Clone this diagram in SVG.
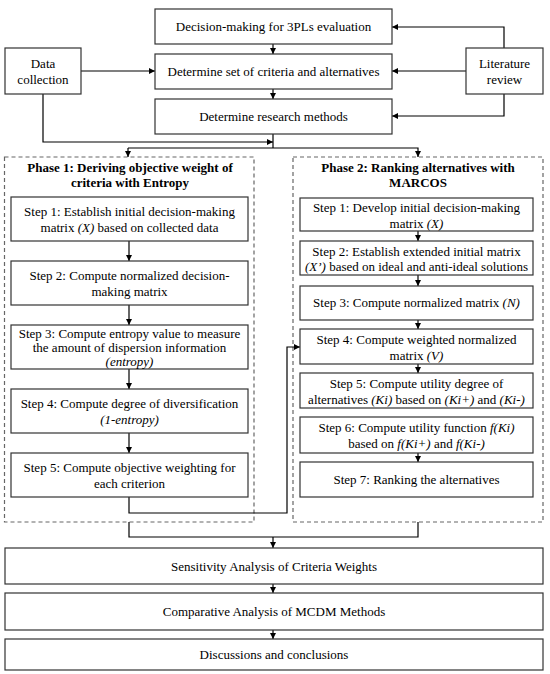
<svg xmlns="http://www.w3.org/2000/svg" width="550" height="674" viewBox="0 0 550 674">
<defs>
<marker id="ah" viewBox="0 0 10 10" refX="10" refY="5" markerWidth="6" markerHeight="6" orient="auto" markerUnits="userSpaceOnUse">
<path d="M0,0 L10,5 L0,10 z" fill="#000"/>
</marker>
</defs>
<style>
.box{fill:#fff;stroke:#333;stroke-width:1.2}
.dash{fill:none;stroke:#666;stroke-width:1.2;stroke-dasharray:4,3}
.c{fill:none;stroke:#000;stroke-width:1.2}
.a{marker-end:url(#ah)}
text{font-family:"Liberation Serif","Times New Roman",serif;font-size:13px;fill:#000;text-anchor:middle}
.b{font-weight:bold}
.i{font-style:italic}
</style>
<rect width="550" height="674" fill="#fff"/>

<g id="phase1">
<rect class="dash" x="4.5" y="157" width="249.5" height="365"/>
<text class="b" x="130" y="172">Phase 1: Deriving objective weight of</text>
<text class="b" x="130" y="187">criteria with Entropy</text>
</g>
<g id="phase2">
<rect class="dash" x="293" y="157" width="250" height="365"/>
<text class="b" x="418" y="172">Phase 2: Ranking alternatives with</text>
<text class="b" x="418" y="187">MARCOS</text>
</g>

<g id="connectors">
<path class="c a" d="M273,44 V54"/>
<path class="c a" d="M273,89 V99"/>
<path class="c a" d="M81,71 H155"/>
<path class="c a" d="M466,71 H392"/>
<path class="c a" d="M504,48 V27 H392"/>
<path class="c a" d="M504,94 V116 H392"/>
<path class="c a" d="M43,94 V142 H273"/>
<path class="c" d="M273,134 V148"/>
<path class="c a" d="M128,148 H418 V157"/>
<path class="c a" d="M128,148 V157"/>
<path class="c a" d="M129,241 V261"/>
<path class="c a" d="M129,305 V325"/>
<path class="c a" d="M129,369 V389"/>
<path class="c a" d="M129,433 V453"/>
<path class="c a" d="M129,497 V513 H287 V347 H300"/>
<path class="c a" d="M418,231 V241"/>
<path class="c a" d="M418,275 V286"/>
<path class="c a" d="M418,320 V329"/>
<path class="c a" d="M418,364 V373"/>
<path class="c a" d="M418,453 V462"/>
<path class="c" d="M129,522 V537 H418 V522"/>
<path class="c a" d="M273,537 V548"/>
<path class="c a" d="M273,584 V593"/>
<path class="c a" d="M273,630 V639"/>
</g>

<g id="n-decision">
<rect class="box" x="155" y="9" width="237" height="35"/>
<text x="273.5" y="31">Decision-making for 3PLs evaluation</text>
</g>
<g id="n-criteria">
<rect class="box" x="155" y="54" width="237" height="35"/>
<text x="273.5" y="76">Determine set of criteria and alternatives</text>
</g>
<g id="n-methods">
<rect class="box" x="155" y="99" width="237" height="35"/>
<text x="273.5" y="121">Determine research methods</text>
</g>
<g id="n-data">
<rect class="box" x="5" y="48" width="76" height="46"/>
<text x="43" y="68">Data</text>
<text x="43" y="84">collection</text>
</g>
<g id="n-lit">
<rect class="box" x="466" y="48" width="77" height="46"/>
<text x="504.5" y="68">Literature</text>
<text x="504.5" y="84">review</text>
</g>

<g id="p1-s1">
<rect class="box" x="11" y="197" width="237" height="44"/>
<text x="129.5" y="216">Step 1: Establish initial decision-making</text>
<text x="129.5" y="232">matrix <tspan class="i">(X)</tspan> based on collected data</text>
</g>
<g id="p1-s2">
<rect class="box" x="11" y="261" width="237" height="44"/>
<text x="129.5" y="280">Step 2: Compute normalized decision-</text>
<text x="129.5" y="296">making matrix</text>
</g>
<g id="p1-s3">
<rect class="box" x="11" y="325" width="237" height="44"/>
<text x="129.5" y="338">Step 3: Compute entropy value to measure</text>
<text x="129.5" y="352">the amount of dispersion information</text>
<text class="i" x="129.5" y="366">(entropy)</text>
</g>
<g id="p1-s4">
<rect class="box" x="11" y="389" width="237" height="44"/>
<text x="129.5" y="408">Step 4: Compute degree of diversification</text>
<text class="i" x="129.5" y="424">(1-entropy)</text>
</g>
<g id="p1-s5">
<rect class="box" x="11" y="453" width="237" height="44"/>
<text x="129.5" y="472">Step 5: Compute objective weighting for</text>
<text x="129.5" y="488">each criterion</text>
</g>

<g id="p2-s1">
<rect class="box" x="300" y="198" width="233" height="33"/>
<text x="416.5" y="212">Step 1: Develop initial decision-making</text>
<text x="416.5" y="228">matrix <tspan class="i">(X)</tspan></text>
</g>
<g id="p2-s2">
<rect class="box" x="300" y="241" width="233" height="34"/>
<text x="416.5" y="256">Step 2: Establish extended initial matrix</text>
<text x="416.5" y="271"><tspan class="i">(X’)</tspan> based on ideal and anti-ideal solutions</text>
</g>
<g id="p2-s3">
<rect class="box" x="300" y="286" width="233" height="34"/>
<text x="416.5" y="307">Step 3: Compute normalized matrix <tspan class="i">(N)</tspan></text>
</g>
<g id="p2-s4">
<rect class="box" x="300" y="329" width="233" height="35"/>
<text x="416.5" y="344">Step 4: Compute weighted normalized</text>
<text x="416.5" y="360">matrix <tspan class="i">(V)</tspan></text>
</g>
<g id="p2-s5">
<rect class="box" x="300" y="373" width="233" height="35"/>
<text x="416.5" y="388">Step 5: Compute utility degree of</text>
<text x="416.5" y="404">alternatives <tspan class="i">(Ki)</tspan> based on <tspan class="i">(Ki+)</tspan> and <tspan class="i">(Ki-)</tspan></text>
</g>
<g id="p2-s6">
<rect class="box" x="300" y="417" width="233" height="36"/>
<text x="416.5" y="432">Step 6: Compute utility function  <tspan class="i">f(Ki)</tspan></text>
<text x="416.5" y="448">based on <tspan class="i">f(Ki+)</tspan> and <tspan class="i">f(Ki-)</tspan></text>
</g>
<g id="p2-s7">
<rect class="box" x="300" y="462" width="233" height="35"/>
<text x="416.5" y="484">Step 7: Ranking the alternatives</text>
</g>

<g id="n-sens">
<rect class="box" x="5" y="548" width="538" height="36"/>
<text x="274" y="571">Sensitivity Analysis of Criteria Weights</text>
</g>
<g id="n-comp">
<rect class="box" x="5" y="593" width="538" height="37"/>
<text x="274" y="616">Comparative Analysis of MCDM Methods</text>
</g>
<g id="n-disc">
<rect class="box" x="5" y="639" width="538" height="31"/>
<text x="274" y="659">Discussions and conclusions</text>
</g>
</svg>
